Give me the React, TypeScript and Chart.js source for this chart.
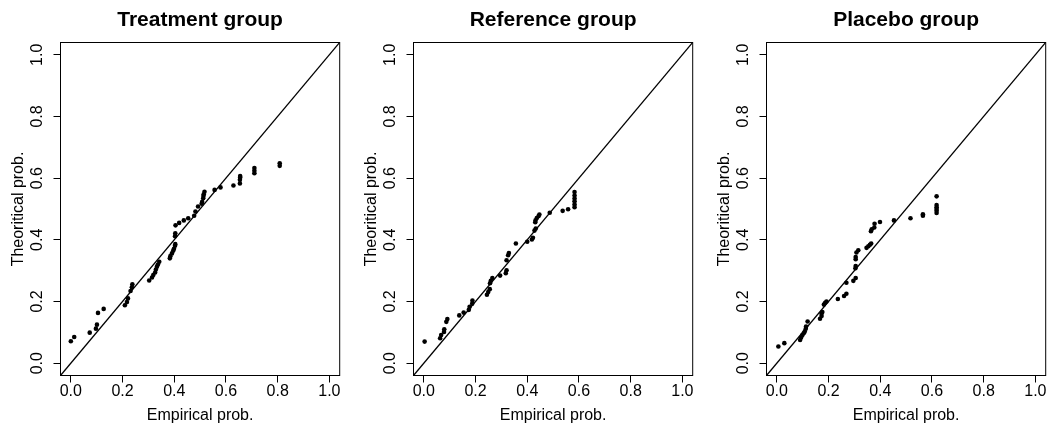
import React, { useEffect, useRef } from "react";
import { Chart, registerables } from "chart.js";

Chart.register(...registerables);

// ---------- data ----------
const AXIS_MIN = -0.04;
const AXIS_MAX = 1.04;
const tickValues = [0, 0.2, 0.4, 0.6, 0.8, 1.0];
const panelTitles = ["Treatment group", "Reference group", "Placebo group"];
const xAxisTitle = "Empirical prob.";
const yAxisTitle = "Theoritical prob.";

const treatmentEmp = [
  0.0, 0.013, 0.073, 0.097, 0.101, 0.105, 0.127, 0.209, 0.217, 0.221, 0.231, 0.236, 0.238,
  0.303, 0.314, 0.319, 0.326, 0.329, 0.333, 0.337, 0.342, 0.383, 0.385, 0.391, 0.396, 0.399,
  0.403, 0.404, 0.403, 0.404, 0.405, 0.419, 0.437, 0.454, 0.477, 0.482, 0.492, 0.506, 0.508,
  0.512, 0.513, 0.514, 0.517, 0.556, 0.579, 0.629, 0.654, 0.654, 0.655, 0.655, 0.71, 0.71,
  0.71, 0.808, 0.808,
];
const treatmentTheo = [
  0.071, 0.085, 0.099, 0.112, 0.125, 0.163, 0.176, 0.188, 0.198, 0.21, 0.234, 0.246, 0.256,
  0.268, 0.278, 0.286, 0.294, 0.304, 0.313, 0.32, 0.329, 0.34, 0.347, 0.356, 0.365, 0.371,
  0.381, 0.386, 0.412, 0.421, 0.447, 0.455, 0.463, 0.47, 0.478, 0.492, 0.508, 0.517, 0.523,
  0.535, 0.542, 0.548, 0.556, 0.562, 0.57, 0.576, 0.583, 0.595, 0.602, 0.607, 0.616, 0.624,
  0.633, 0.64, 0.648,
];

const referenceEmp = [
  0.003, 0.063, 0.067, 0.078, 0.079, 0.087, 0.091, 0.137, 0.154, 0.174, 0.177, 0.187, 0.188,
  0.244, 0.249, 0.255, 0.256, 0.259, 0.265, 0.295, 0.317, 0.32, 0.32, 0.326, 0.329, 0.356,
  0.4, 0.418, 0.422, 0.428, 0.433, 0.431, 0.432, 0.437, 0.444, 0.447, 0.487, 0.537, 0.558,
  0.583, 0.583, 0.583, 0.583, 0.583, 0.583,
];
const referenceTheo = [
  0.07, 0.081, 0.091, 0.101, 0.11, 0.134, 0.143, 0.155, 0.164, 0.173, 0.183, 0.193, 0.203,
  0.222, 0.231, 0.24, 0.259, 0.267, 0.276, 0.284, 0.292, 0.301, 0.334, 0.35, 0.357, 0.388,
  0.394, 0.401, 0.407, 0.43, 0.437, 0.457, 0.463, 0.471, 0.477, 0.482, 0.488, 0.494, 0.499,
  0.506, 0.515, 0.525, 0.534, 0.544, 0.555,
];

const placeboEmp = [
  0.006, 0.029, 0.09, 0.094, 0.099, 0.104, 0.108, 0.112, 0.113, 0.119, 0.167, 0.173, 0.173,
  0.176, 0.182, 0.187, 0.192, 0.236, 0.26, 0.269, 0.269, 0.296, 0.305, 0.304, 0.305, 0.305,
  0.305, 0.308, 0.315, 0.347, 0.354, 0.36, 0.365, 0.364, 0.367, 0.377, 0.378, 0.399, 0.453,
  0.517, 0.565, 0.565, 0.618, 0.618, 0.618, 0.618, 0.618, 0.618,
];
const placeboTheo = [
  0.054, 0.065, 0.075, 0.083, 0.091, 0.097, 0.103, 0.112, 0.119, 0.135, 0.144, 0.153, 0.161,
  0.166, 0.19, 0.196, 0.2, 0.208, 0.218, 0.225, 0.261, 0.267, 0.276, 0.308, 0.315, 0.337,
  0.344, 0.359, 0.366, 0.374, 0.379, 0.384, 0.388, 0.428, 0.434, 0.44, 0.452, 0.458, 0.463,
  0.47, 0.478, 0.483, 0.487, 0.494, 0.5, 0.506, 0.513, 0.541,
];

const panelEmp = [treatmentEmp, referenceEmp, placeboEmp];
const panelTheo = [treatmentTheo, referenceTheo, placeboTheo];
const panelLeft = [0, 353, 706];

// ---------- chart ----------
const FONT = "'Liberation Sans', Arial, Helvetica, sans-serif";
const CANVAS_W = 342;
const CANVAS_H = 426;

const boxPlugin = {
  id: "plotBox",
  afterDraw(chart: any) {
    const { ctx, chartArea } = chart;
    ctx.save();
    ctx.strokeStyle = "#000";
    ctx.lineWidth = 1;
    ctx.strokeRect(
      chartArea.left,
      chartArea.top,
      chartArea.right - chartArea.left,
      chartArea.bottom - chartArea.top
    );
    ctx.restore();
  },
};

function Panel({ title, emp, theo, left }: { title: string; emp: number[]; theo: number[]; left: number }) {
  const ref = useRef<HTMLCanvasElement | null>(null);

  useEffect(() => {
    if (!ref.current) return;
    const setTicks = (scale: any) => {
      scale.ticks = tickValues.map((v) => ({ value: v }));
    };
    const chart = new Chart(ref.current, {
      type: "scatter",
      data: {
        datasets: [
          {
            data: emp.map((x, i) => ({ x, y: theo[i] })),
            pointRadius: 2.3,
            pointHoverRadius: 2.3,
            pointBackgroundColor: "#000",
            backgroundColor: "#000",
            pointBorderWidth: 0,
            borderWidth: 0,
          },
          {
            data: [
              { x: AXIS_MIN, y: AXIS_MIN },
              { x: AXIS_MAX, y: AXIS_MAX },
            ],
            showLine: true,
            pointRadius: 0,
            borderColor: "#000",
            borderWidth: 1.25,
          },
        ],
      } as any,
      options: {
        responsive: false,
        animation: false,
        events: [],
        layout: { padding: { top: 0, left: 0, right: 1.5, bottom: 0 } },
        plugins: {
          legend: { display: false },
          tooltip: { enabled: false },
          title: {
            display: true,
            text: title,
            fullSize: false,
            color: "#000",
            font: { family: FONT, size: 21, weight: "bold", lineHeight: 1.2 },
            padding: { top: 7.3, bottom: 10 },
          },
        },
        scales: {
          x: {
            type: "linear",
            position: "bottom",
            min: AXIS_MIN,
            max: AXIS_MAX,
            afterBuildTicks: setTicks,
            afterFit: (s: any) => {
              s.height = 50.5;
            },
            grid: { display: true, drawOnChartArea: false, drawTicks: true, tickLength: 7, color: "#000", lineWidth: 1 },
            border: { display: false },
            ticks: {
              color: "#000",
              font: { family: FONT, size: 16, lineHeight: 1 },
              padding: 0.7,
              autoSkip: false,
              maxRotation: 0,
              minRotation: 0,
              callback: (v: any) => Number(v).toFixed(1),
            },
            title: {
              display: true,
              text: xAxisTitle,
              color: "#000",
              font: { family: FONT, size: 16, lineHeight: 1.2 },
              padding: { top: 0, bottom: 1.2 },
            },
          },
          y: {
            type: "linear",
            position: "left",
            min: AXIS_MIN,
            max: AXIS_MAX,
            afterBuildTicks: setTicks,
            afterFit: (s: any) => {
              s.width = 60.5;
            },
            grid: { display: true, drawOnChartArea: false, drawTicks: true, tickLength: 7, color: "#000", lineWidth: 1 },
            border: { display: false },
            ticks: {
              color: "#000",
              font: { family: FONT, size: 16, lineHeight: 1 },
              padding: 4.6,
              autoSkip: false,
              minRotation: 90,
              maxRotation: 90,
              crossAlign: "center",
              callback: (v: any) => Number(v).toFixed(1),
            },
            title: {
              display: true,
              text: yAxisTitle,
              color: "#000",
              font: { family: FONT, size: 16, lineHeight: 1.2 },
              padding: { top: 8.6, bottom: 0 },
            },
          },
        },
      } as any,
      plugins: [boxPlugin],
    });
    return () => chart.destroy();
  }, [title, emp, theo]);

  return (
    <canvas
      ref={ref}
      width={CANVAS_W}
      height={CANVAS_H}
      style={{ position: "absolute", left, top: 0, width: CANVAS_W, height: CANVAS_H }}
    />
  );
}

export default function App() {
  return (
    <div style={{ position: "fixed", left: 0, top: 0, width: 1048, height: 426, background: "#fff" }}>
      {panelTitles.map((t, i) => (
        <Panel key={t} title={t} emp={panelEmp[i]} theo={panelTheo[i]} left={panelLeft[i]} />
      ))}
    </div>
  );
}
